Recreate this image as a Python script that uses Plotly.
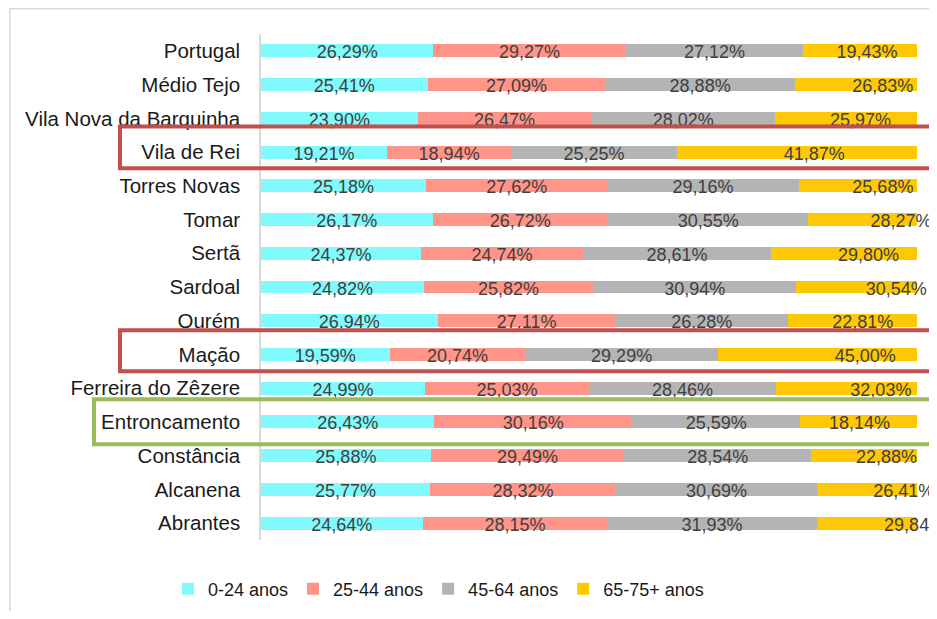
import plotly.graph_objects as go

categories = ["Portugal", "Médio Tejo", "Vila Nova da Barquinha", "Vila de Rei",
              "Torres Novas", "Tomar", "Sertã", "Sardoal", "Ourém", "Mação",
              "Ferreira do Zêzere", "Entroncamento", "Constância", "Alcanena", "Abrantes"]

age_0_24 = [26.29, 25.41, 23.90, 19.21, 25.18, 26.17, 24.37, 24.82, 26.94, 19.59,
            24.99, 26.43, 25.88, 25.77, 24.64]
age_25_44 = [29.27, 27.09, 26.47, 18.94, 27.62, 26.72, 24.74, 25.82, 27.11, 20.74,
             25.03, 30.16, 29.49, 28.32, 28.15]
age_45_64 = [27.12, 28.88, 28.02, 25.25, 29.16, 30.55, 28.61, 30.94, 26.28, 29.29,
             28.46, 25.59, 28.54, 30.69, 31.93]
age_65_plus = [19.43, 26.83, 25.97, 41.87, 25.68, 28.27, 29.80, 30.54, 22.81, 45.00,
               32.03, 18.14, 22.88, 26.41, 29.84]

series_names = ["0-24 anos", "25-44 anos", "45-64 anos", "65-75+ anos"]
series_values = [age_0_24, age_25_44, age_45_64, age_65_plus]
colors = ["#80FAFC", "#FF9489", "#B4B4B4", "#FFC805"]

FONT = "Liberation Sans, Arial, sans-serif"

fig = go.Figure()
base = [0.0] * len(categories)
for name, vals, col in zip(series_names, series_values, colors):
    fig.add_trace(go.Bar(
        y=categories, x=vals, base=list(base), orientation="h", name=name,
        marker=dict(color=col, line=dict(width=0)), hoverinfo="skip",
    ))
    mids = [b + v / 2 for b, v in zip(base, vals)]
    fig.add_trace(go.Scatter(
        y=categories, x=mids, mode="text", yaxis="y2",
        text=[f"{v:.2f}%".replace(".", ",") for v in vals],
        textposition="middle center",
        textfont=dict(family=FONT, size=18, color="#404040"),
        showlegend=False, hoverinfo="skip", cliponaxis=False,
    ))
    base = [b + v for b, v in zip(base, vals)]

shapes = []
# outer frame (light gray)
shapes.append(dict(type="rect", xref="paper", yref="paper",
                   x0=-0.3826, x1=1.2, y0=-0.3, y1=1.0498,
                   line=dict(color="#D9D9D9", width=1.5), layer="below"))

def row_box(idx, up, down, xl, xr, color):
    return dict(type="rect", xref="paper", yref="y",
                x0=xl, x1=xr, y0=idx - up, y1=idx + down,
                line=dict(color=color, width=4), layer="above")

shapes.append(row_box(3, 0.76, 0.48, -0.215, 1.04, "#C0504D"))
shapes.append(row_box(9, 0.72, 0.50, -0.215, 1.04, "#C0504D"))
shapes.append(row_box(11, 0.674, 0.66, -0.2546, 1.0213, "#9BBB59"))

n = len(categories)
fig.update_layout(
    template="none",
    width=929, height=603,
    margin=dict(l=253, r=20, t=26, b=71, pad=0, autoexpand=False),
    paper_bgcolor="white", plot_bgcolor="white",
    barmode="stack", bargap=0.615,
    showlegend=True,
    legend=dict(orientation="h", xref="paper", yref="paper",
                x=-0.1418, xanchor="left", y=-0.0968, yanchor="middle",
                font=dict(family=FONT, size=18, color="#1A1A1A"),
                bgcolor="rgba(0,0,0,0)",
                itemclick=False, traceorder="normal"),
    shapes=shapes,
    font=dict(family=FONT),
    yaxis2=dict(type="category", categoryorder="array", categoryarray=categories,
                overlaying="y", visible=False, range=[n - 0.5 - 0.09, -0.5 - 0.09],
                autorange=False, fixedrange=True, automargin=False),
)
fig.update_xaxes(range=[0, 100], visible=False, fixedrange=True, automargin=False)
fig.update_layout(yaxis=dict(
    type="category", categoryorder="array", categoryarray=categories,
    range=[n - 0.5, -0.5], autorange=False,
    showgrid=False, zeroline=False, automargin=False,
    showline=True, linecolor="#D9D9D9", linewidth=1.5,
    ticks="outside", ticklen=15, tickcolor="rgba(0,0,0,0)",
    tickfont=dict(family=FONT, size=20.5, color="#1A1A1A"),
    fixedrange=True,
))

fig.write_html("out.html")
